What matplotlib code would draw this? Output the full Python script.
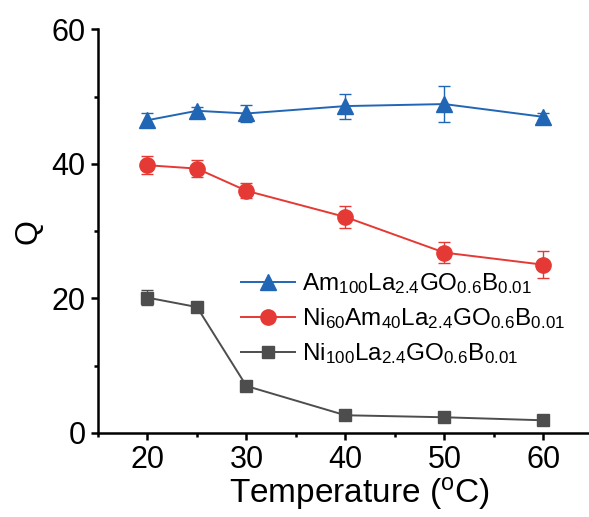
import matplotlib
matplotlib.use("Agg")
import matplotlib.pyplot as plt
from matplotlib.ticker import MultipleLocator

plt.rcParams['font.family'] = ['Liberation Sans', 'DejaVu Sans']
plt.rcParams['mathtext.fontset'] = 'custom'
plt.rcParams['mathtext.rm'] = 'Liberation Sans'
plt.rcParams['mathtext.it'] = 'Liberation Sans:italic'

# Datos
temp_am = [20, 25, 30, 40, 50, 60]
q_am = [46.5, 47.9, 47.5, 48.6, 48.9, 47.0]
err_am = [1.0, 0.5, 1.3, 1.85, 2.7, 0.5]

temp_ni60 = [20, 25, 30, 40, 50, 60]
q_ni60 = [39.8, 39.3, 36.0, 32.1, 26.8, 25.0]
err_ni60 = [1.35, 1.3, 1.1, 1.6, 1.6, 2.05]

temp_ni100 = [20, 25, 30, 40, 50, 60]
q_ni100 = [20.1, 18.7, 6.95, 2.6, 2.3, 1.85]
err_ni100 = [1.1, 0.4, 0.3, 0.3, 0.3, 0.3]

labels = [r'$\mathrm{Am_{100}La_{2.4}GO_{0.6}B_{0.01}}$',
          r'$\mathrm{Ni_{60}Am_{40}La_{2.4}GO_{0.6}B_{0.01}}$',
          r'$\mathrm{Ni_{100}La_{2.4}GO_{0.6}B_{0.01}}$']

BLUE = '#2166b5'
RED = '#e53935'
GRAY = '#4d4d4d'

fig = plt.figure(figsize=(5.89, 5.17), dpi=100)
ax = fig.add_axes([0.1664, 0.163, 0.84, 0.780])

ax.errorbar(temp_am, q_am, yerr=err_am, color=BLUE, marker='^', markersize=11,
            lw=1.4, elinewidth=1, capsize=4, capthick=1, label=labels[0])
ax.errorbar(temp_ni60, q_ni60, yerr=err_ni60, color=RED, marker='o', markersize=11,
            lw=1.4, elinewidth=1, capsize=4, capthick=1, label=labels[1])
ax.errorbar(temp_ni100, q_ni100, yerr=err_ni100, color=GRAY, marker='s', markersize=8.5,
            lw=1.4, elinewidth=1, capsize=4, capthick=1, label=labels[2])

ax.set_xlim(15, 65)
ax.set_ylim(0, 60)
ax.xaxis.set_major_locator(MultipleLocator(10))
ax.xaxis.set_minor_locator(MultipleLocator(5))
ax.yaxis.set_major_locator(MultipleLocator(20))
ax.yaxis.set_minor_locator(MultipleLocator(10))

for s in ['top', 'right']:
    ax.spines[s].set_visible(False)
for s in ['left', 'bottom']:
    ax.spines[s].set_linewidth(1.8)

ax.tick_params(which='major', direction='out', length=5, width=1.8, labelsize=22, pad=4)
ax.tick_params(which='minor', direction='out', length=3, width=1.8)

ax.set_xlabel(r'Temperature ($^{\mathrm{o}}$C)', fontsize=24)
ax.xaxis.set_label_coords(0.528, -0.105)
ax.set_ylabel('Q', fontsize=23, labelpad=6)

handles, labs = ax.get_legend_handles_labels()
handles = [h[0] for h in handles]
ax.legend(handles, labs, loc='upper left', bbox_to_anchor=(0.27, 0.425), frameon=False,
          fontsize=17.5, handlelength=2.2, handletextpad=0.3, labelspacing=0.42,
          borderaxespad=0)

fig.savefig('out.png', dpi=100)
